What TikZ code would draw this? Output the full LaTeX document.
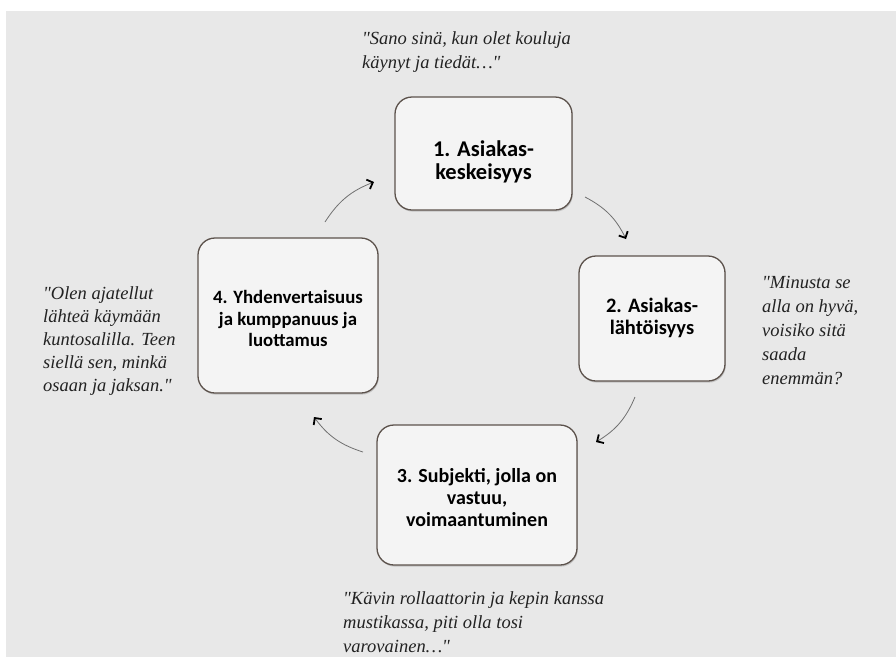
\documentclass[tikz,border=0pt]{standalone}
\usepackage{fontspec}
\setmainfont{Liberation Serif}
\newfontfamily\boxfont{Carlito}
\usetikzlibrary{arrows.meta,shadows}

\definecolor{panel}{HTML}{E8E8E8}
\definecolor{boxfill}{HTML}{F4F4F4}
\definecolor{boxline}{HTML}{5C524C}
\definecolor{arrowline}{HTML}{707070}
\definecolor{quotecol}{HTML}{222222}

\newcommand{\qm}{\textquotedbl}

\tikzset{
  stagebox/.style={draw=boxline, line width=1.3pt, fill=boxfill,
    rounded corners=17pt, inner sep=0pt,
    drop shadow={opacity=0.35, shadow xshift=0.8pt, shadow yshift=-1.6pt}},
  stagetext/.style={align=center, inner sep=0pt, text=black,
    font=\boxfont\bfseries\fontsize{20}{22}\selectfont},
  quote/.style={anchor=north west, align=left, inner sep=0pt, text=quotecol,
    font=\itshape\fontsize{18.5}{24}\selectfont},
  flow/.style={draw=arrowline, line width=0.8pt,
    -{Straight Barb[length=5pt,width=10pt,line width=1.8pt,color=black]}}
}

\begin{document}
\begin{tikzpicture}[x=1pt,y=-1pt]
  % page and grey panel
  \useasboundingbox (0,0) rectangle (896,657);
  \fill[white] (0,0) rectangle (896,657);
  \fill[panel] (6,11) rectangle (896,657);

  % the four stages
  \node[stagebox, minimum width=177pt, minimum height=113pt] (s1) at (483.5,153.5) {};
  \node[stagebox, minimum width=146pt, minimum height=125pt] (s2) at (652,318.5) {};
  \node[stagebox, minimum width=200pt, minimum height=140pt] (s3) at (477,495) {};
  \node[stagebox, minimum width=180pt, minimum height=155pt] (s4) at (288,315.5) {};

  \node[stagetext, font=\boxfont\bfseries\fontsize{22.5}{23}\selectfont]
    (t1) at ([yshift=-8pt]s1.center) {1. Asiakas-\\keskeisyys};
  \node[stagetext, font=\boxfont\bfseries\fontsize{20.5}{22}\selectfont]
    (t2) at ([yshift=1pt]s2.center) {2. Asiakas-\\lähtöisyys};
  \node[stagetext] (t3) at ([yshift=-3pt]s3.center) {3. Subjekti, jolla on\\vastuu,\\voimaantuminen};
  \node[stagetext, font=\boxfont\bfseries\fontsize{18.8}{21.5}\selectfont]
    (t4) at ([yshift=-3pt]s4.center) {4. Yhdenvertaisuus\\ja kumppanuus ja\\luottamus};

  % quotations
  \node[quote] (q1) at (362,31) {\qm Sano sinä, kun olet kouluja\\käynyt ja tiedät…\qm};
  \node[quote] (q2) at (762,276) {\qm Minusta se\\alla on hyvä,\\voisiko sitä\\saada\\enemmän?};
  \node[quote] (q3) at (343,591) {\qm Kävin rollaattorin ja kepin kanssa\\mustikassa, piti olla tosi\\varovainen…\qm};
  \node[quote, font=\itshape\fontsize{18.5}{23}\selectfont]
    (q4) at (43,286) {\qm Olen ajatellut\\lähteä käymään\\kuntosalilla. Teen\\siellä sen, minkä\\osaan ja jaksan.\qm};

  % cycle arrows between the stages
  \coordinate (a1s) at (585,197);
  \coordinate (a1e) at (626,239);
  \coordinate (a2s) at (635,397);
  \coordinate (a2e) at (596,442);
  \coordinate (a3s) at (363,452);
  \coordinate (a3e) at (314,417);
  \coordinate (a4s) at (325,222);
  \coordinate (a4e) at (374,182);

  \draw[flow] (a1s) to[bend left=18] (a1e);
  \draw[flow] (a2s) to[bend left=18] (a2e);
  \draw[flow] (a3s) to[bend left=18] (a3e);
  \draw[flow] (a4s) to[bend left=18] (a4e);
\end{tikzpicture}
\end{document}
